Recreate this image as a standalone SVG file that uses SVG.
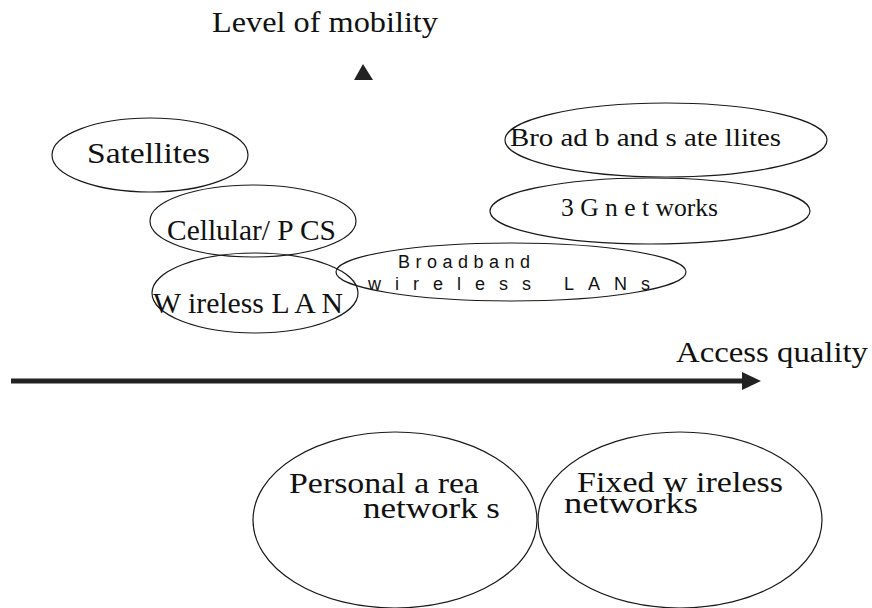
<svg xmlns="http://www.w3.org/2000/svg" width="872" height="608" viewBox="0 0 872 608">
<defs>
<style>
.n ellipse{fill:none;stroke:#1a1a1a;stroke-width:1.2}
.t{font-family:"Liberation Serif","Times New Roman",serif;fill:#111}
.s{font-family:"Liberation Sans",Arial,sans-serif;fill:#111;font-size:18px}
.ax{stroke:#222;stroke-width:5;fill:none}
</style>
<marker id="ah" markerUnits="userSpaceOnUse" markerWidth="20" markerHeight="20" viewBox="0 0 20 20" refX="0" refY="10" orient="auto">
<path d="M0,1 L19,10 L0,19 Z" fill="#222"/>
</marker>
</defs>
<rect width="872" height="608" fill="#fff"/>
<g id="axis-title">
<text class="t" x="212" y="32" font-size="29" textLength="226" lengthAdjust="spacingAndGlyphs">Level of mobility</text>
</g>
<g id="connectors">
<polygon points="363,64 354,80 373,80" fill="#222"/>
<line class="ax" x1="11" y1="381" x2="742" y2="381" marker-end="url(#ah)"/>
</g>
<g id="access-quality">
<text class="t" x="676" y="362" font-size="30" textLength="192" lengthAdjust="spacingAndGlyphs">Access quality</text>
</g>
<g id="satellites" class="n">
<ellipse cx="150" cy="155" rx="98" ry="37"/>
<text class="t" x="87" y="163" font-size="30" textLength="123" lengthAdjust="spacingAndGlyphs">Satellites</text>
</g>
<g id="cellular" class="n">
<ellipse cx="253" cy="221" rx="103" ry="36"/>
<text class="t" x="167" y="240" font-size="29" textLength="169" lengthAdjust="spacingAndGlyphs">Cellular/ P CS</text>
</g>
<g id="wireless-lan" class="n">
<ellipse cx="255" cy="293" rx="103" ry="40"/>
<text class="t" x="153" y="313" font-size="29" textLength="190" lengthAdjust="spacingAndGlyphs">W ireless L A N</text>
</g>
<g id="broadband-satellites" class="n">
<ellipse cx="666" cy="140" rx="161" ry="37"/>
<text class="t" x="510" y="146" font-size="25" textLength="271" lengthAdjust="spacingAndGlyphs">Bro ad b and s ate llites</text>
</g>
<g id="3g-networks" class="n">
<ellipse cx="650" cy="211" rx="160" ry="33"/>
<text class="t" x="561" y="216" font-size="25" textLength="157" lengthAdjust="spacingAndGlyphs">3 G n e t works</text>
</g>
<g id="broadband-wireless-lans" class="n">
<ellipse cx="511" cy="272" rx="175" ry="29"/>
<text class="s" x="398" y="268" textLength="132" lengthAdjust="spacing">Broadband</text>
<text class="s" x="368" y="290" textLength="282" lengthAdjust="spacing">wireless LANs</text>
</g>
<g id="personal-area-networks" class="n">
<ellipse cx="395" cy="520" rx="142" ry="88"/>
<text class="t" x="289" y="493" font-size="29" textLength="190" lengthAdjust="spacingAndGlyphs">Personal a rea</text>
<text class="t" x="363" y="518" font-size="29" textLength="137" lengthAdjust="spacingAndGlyphs">network s</text>
</g>
<g id="fixed-wireless-networks" class="n">
<ellipse cx="680" cy="520" rx="142" ry="88"/>
<text class="t" x="577" y="492" font-size="29" textLength="206" lengthAdjust="spacingAndGlyphs">Fixed w ireless</text>
<text class="t" x="564" y="513" font-size="29" textLength="134" lengthAdjust="spacingAndGlyphs">networks</text>
</g>
</svg>
